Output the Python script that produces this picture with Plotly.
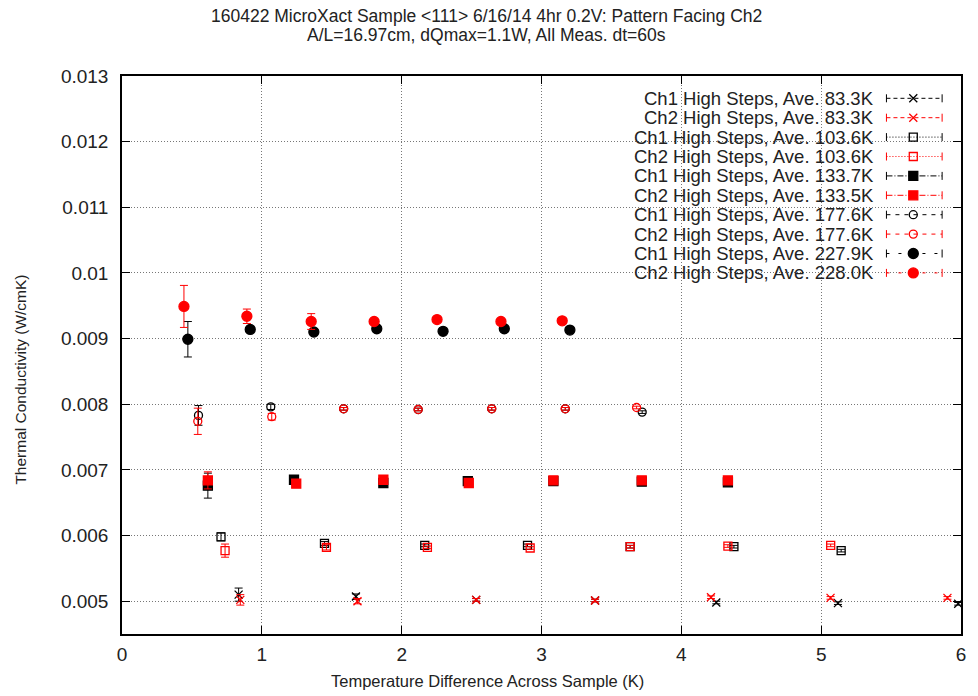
import plotly.graph_objects as go

# ---------------- data ----------------
ch1_83_x = [0.834, 1.673, 2.533, 3.383, 4.250, 5.120, 5.980]
ch1_83_y = [0.00510, 0.00507, 0.00502, 0.00501, 0.00498, 0.00497, 0.00496]
ch1_83_e = [0.00010, 0.00004, 0.00002, 0.00002, 0.00002, 0.00002, 0.00002]
ch2_83_x = [0.846, 1.684, 2.533, 3.383, 4.212, 5.067, 5.903]
ch2_83_y = [0.00502, 0.00500, 0.00502, 0.00501, 0.00506, 0.00505, 0.00505]
ch2_83_e = [0.00008, 0.00004, 0.00002, 0.00002, 0.00002, 0.00002, 0.00002]

ch1_104_x = [0.708, 1.448, 2.165, 2.900, 3.634, 4.376, 5.143]
ch1_104_y = [0.00598, 0.00588, 0.00585, 0.00585, 0.00583, 0.00583, 0.00577]
ch1_104_e = [0.00006, 0.00003, 0.00002, 0.00002, 0.00002, 0.00002, 0.00002]
ch2_104_x = [0.737, 1.462, 2.184, 2.919, 3.634, 4.333, 5.068]
ch2_104_y = [0.00577, 0.00582, 0.00582, 0.00581, 0.00583, 0.00584, 0.00585]
ch2_104_e = [0.00010, 0.00004, 0.00002, 0.00002, 0.00002, 0.00002, 0.00002]

ch1_134_x = [0.614, 1.230, 1.869, 2.473, 3.085, 3.717, 4.333]
ch1_134_y = [0.00676, 0.00685, 0.00680, 0.00683, 0.00683, 0.00682, 0.00681]
ch1_134_e = [0.00019, 0.00004, 0.00002, 0.00002, 0.00002, 0.00002, 0.00002]
ch2_134_x = [0.614, 1.246, 1.869, 2.480, 3.085, 3.717, 4.333]
ch2_134_y = [0.00684, 0.00679, 0.00685, 0.00680, 0.00684, 0.00684, 0.00684]
ch2_134_e = [0.00013, 0.00005, 0.00002, 0.00002, 0.00002, 0.00002, 0.00002]

ch1_178_x = [0.547, 1.064, 1.585, 2.118, 2.644, 3.170, 3.720]
ch1_178_y = [0.00783, 0.00796, 0.00793, 0.00792, 0.00793, 0.00793, 0.00788]
ch1_178_e = [0.00015, 0.00004, 0.00002, 0.00002, 0.00002, 0.00002, 0.00002]
ch2_178_x = [0.542, 1.071, 1.585, 2.118, 2.644, 3.170, 3.680]
ch2_178_y = [0.00774, 0.00781, 0.00793, 0.00792, 0.00793, 0.00793, 0.00795]
ch2_178_e = [0.00020, 0.00005, 0.00002, 0.00002, 0.00002, 0.00002, 0.00002]

ch1_228_x = [0.471, 0.917, 1.372, 1.822, 2.296, 2.734, 3.203]
ch1_228_y = [0.00899, 0.00914, 0.00910, 0.00915, 0.00911, 0.00915, 0.00913]
ch1_228_e = [0.00027, 0.00004, 0.00003, 0.00003, 0.00002, 0.00002, 0.00002]
ch2_228_x = [0.443, 0.893, 1.353, 1.803, 2.253, 2.710, 3.148]
ch2_228_y = [0.00949, 0.00934, 0.00926, 0.00926, 0.00929, 0.00926, 0.00927]
ch2_228_e = [0.00032, 0.00011, 0.00012, 0.00003, 0.00002, 0.00002, 0.00002]

series_names = [
    "Ch1 High Steps, Ave. 83.3K", "Ch2 High Steps, Ave. 83.3K",
    "Ch1 High Steps, Ave. 103.6K", "Ch2 High Steps, Ave. 103.6K",
    "Ch1 High Steps, Ave. 133.7K", "Ch2 High Steps, Ave. 133.5K",
    "Ch1 High Steps, Ave. 177.6K", "Ch2 High Steps, Ave. 177.6K",
    "Ch1 High Steps, Ave. 227.9K", "Ch2 High Steps, Ave. 228.0K",
]
series_x = [ch1_83_x, ch2_83_x, ch1_104_x, ch2_104_x, ch1_134_x, ch2_134_x,
            ch1_178_x, ch2_178_x, ch1_228_x, ch2_228_x]
series_y = [ch1_83_y, ch2_83_y, ch1_104_y, ch2_104_y, ch1_134_y, ch2_134_y,
            ch1_178_y, ch2_178_y, ch1_228_y, ch2_228_y]
series_e = [ch1_83_e, ch2_83_e, ch1_104_e, ch2_104_e, ch1_134_e, ch2_134_e,
            ch1_178_e, ch2_178_e, ch1_228_e, ch2_228_e]

y_ticks = [0.005, 0.006, 0.007, 0.008, 0.009, 0.010, 0.011, 0.012, 0.013]
y_tick_text = ["0.005", "0.006", "0.007", "0.008", "0.009", "0.01", "0.011", "0.012", "0.013"]
x_ticks = [0, 1, 2, 3, 4, 5, 6]

title_lines = ["160422 MicroXact Sample &lt;111&gt; 6/16/14 4hr 0.2V: Pattern Facing Ch2",
               "A/L=16.97cm, dQmax=1.1W, All Meas. dt=60s"]
x_title = "Temperature Difference Across Sample (K)"
y_title = "Thermal Conductivity (W/cmK)"

# ---------------- styles ----------------
colors = ["black", "red"] * 5
symbols = ["x-thin-open", "x-thin-open", "square-open", "square-open",
           "square", "square", "circle-open", "circle-open", "circle", "circle"]
sizes = [8, 8, 8, 8, 9, 9, 8, 8, 10, 10]
dashes = ["4px,3px", "4px,3px", "1px,2px", "1px,2px", "6px,2px,1px,2px", "6px,2px,1px,2px",
          "4px,5px", "4px,5px", "3px,9px", "3px,9px"]

FONT = "Liberation Sans, Arial, sans-serif"
TXT = "#222"
W, H = 978, 696
ML, MR, MT, MB = 122, 12, 76, 62
PW, PH = W - ML - MR, H - MT - MB


def px_x(p):
    return (p - ML) / PW


def px_y(p):
    return (H - MB - p) / PH


fig = go.Figure()
for name, xs, ys, es, c, s, sz in zip(series_names, series_x, series_y, series_e, colors, symbols, sizes):
    fig.add_trace(go.Scatter(
        x=xs, y=ys, mode="markers", name=name, showlegend=False,
        marker=dict(symbol=s, size=sz, color=c, line=dict(color=c, width=1.3)),
        error_y=dict(type="data", array=es, visible=True, color=c, thickness=1, width=4),
    ))

# ---------------- custom gnuplot-style key ----------------
row0, drow = 98.3, 19.4
text_right = 880
s_x0, s_x1, s_mid = 891, 947, 918
shapes = []
for i, (name, c, s, sz, d) in enumerate(zip(series_names, colors, symbols, sizes, dashes)):
    py = row0 + drow * i
    fig.add_annotation(x=px_x(text_right), y=px_y(py), xref="paper", yref="paper",
                       text=name, showarrow=False, xanchor="right", yanchor="middle",
                       font=dict(family=FONT, size=18.5, color=TXT))
    shapes.append(dict(type="line", xref="paper", yref="paper",
                       x0=px_x(s_x0), x1=px_x(s_x1), y0=px_y(py), y1=px_y(py),
                       line=dict(color=c, width=1, dash=d)))
    for ex in (s_x0, s_x1):
        shapes.append(dict(type="line", xref="paper", yref="paper",
                           x0=px_x(ex), x1=px_x(ex), y0=px_y(py - 4), y1=px_y(py + 4),
                           line=dict(color=c, width=1)))
    fig.add_trace(go.Scatter(
        x=[px_x(s_mid)], y=[px_y(py)], xaxis="x2", yaxis="y2", mode="markers",
        showlegend=False, hoverinfo="skip",
        marker=dict(symbol=s, size=sz, color=c, line=dict(color=c, width=1.3)),
    ))

# titles as annotations (centred on the page like gnuplot)
for ty, line in zip([16, 35], title_lines):
    fig.add_annotation(x=px_x(489), y=px_y(ty), xref="paper", yref="paper", text=line,
                       showarrow=False, xanchor="center", yanchor="middle",
                       font=dict(family=FONT, size=17.5, color=TXT))
fig.add_annotation(x=px_x(490), y=px_y(681), xref="paper", yref="paper", text=x_title,
                   showarrow=False, xanchor="center", yanchor="middle",
                   font=dict(family=FONT, size=16.5, color=TXT))
fig.add_annotation(x=px_x(19), y=px_y(380), xref="paper", yref="paper", text=y_title,
                   showarrow=False, xanchor="center", yanchor="middle", textangle=-90,
                   font=dict(family=FONT, size=15.5, color=TXT))

axis_common = dict(
    showline=True, linecolor="black", linewidth=1.5, mirror="ticks",
    ticks="inside", ticklen=8, tickcolor="black", tickwidth=1,
    showgrid=True, gridcolor="#777", griddash="1px,2px", gridwidth=1,
    zeroline=False, tickfont=dict(family=FONT, size=19, color=TXT),
)

fig.update_layout(
    width=W, height=H, autosize=False,
    margin=dict(l=ML, r=MR, t=MT, b=MB),
    paper_bgcolor="white", plot_bgcolor="white",
    shapes=shapes,
    xaxis=dict(range=[0, 6], tickvals=x_ticks, ticklabelstandoff=2, **axis_common),
    yaxis=dict(range=[0.0045, 0.013], tickvals=y_ticks, ticktext=y_tick_text,
               ticklabelstandoff=8, **axis_common),
    xaxis2=dict(range=[0, 1], overlaying="x", visible=False, fixedrange=True),
    yaxis2=dict(range=[0, 1], overlaying="y", visible=False, fixedrange=True),
    showlegend=False,
)

fig.write_html("out.html")
